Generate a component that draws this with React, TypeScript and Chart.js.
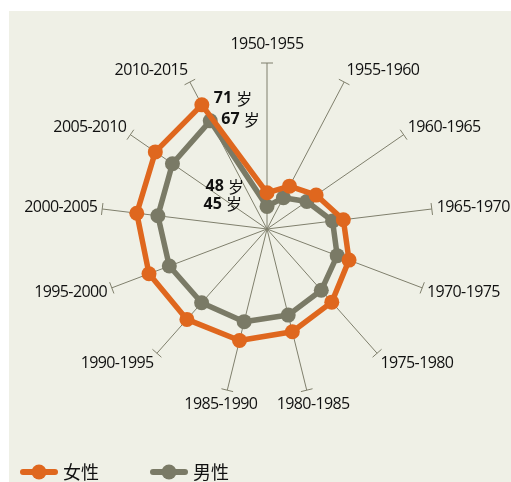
import React, { useEffect, useRef } from 'react';
import { Chart, registerables } from 'chart.js';

Chart.register(...registerables);

const categories = [
  '1950-1955', '1955-1960', '1960-1965', '1965-1970', '1970-1975', '1975-1980', '1980-1985',
  '1985-1990', '1990-1995', '1995-2000', '2000-2005', '2005-2010', '2010-2015',
];
const femaleValues = [48, 50.7, 53.2, 57.0, 59.4, 61.6, 63.4, 65.4, 66.7, 67.9, 69.0, 70.0, 71];
const maleValues = [45, 47.8, 50.7, 54.6, 56.6, 58.1, 59.6, 61.1, 61.8, 63.1, 64.3, 65.4, 67];
const seriesNames = ['女性', '男性'];
const unit = '岁';
const scaleMin = 40;
const scaleMax = 76.7;

const ORANGE = '#df671e';
const GRAY = '#7a7a66';
const BG = '#eff0e6';
const AXIS = '#7f7f6c';
const TEXT = '#111111';
const LATIN = '"Open Sans", "Noto Sans", sans-serif';
const CJK = '"Noto Sans CJK SC", sans-serif';

const decorPlugin = {
  id: 'decor',
  beforeDatasetsDraw(chart: any) {
    const ctx = chart.ctx;
    const scale = chart.scales.r;
    const R = scale.drawingArea;
    const labels = chart.data.labels as string[];
    ctx.save();
    // T caps at the end of each axis line
    ctx.strokeStyle = AXIS;
    ctx.lineWidth = 1;
    labels.forEach((_, i) => {
      const a = scale.getIndexAngle(i);
      const p = scale.getPointPosition(i, R);
      const px = Math.cos(a), py = Math.sin(a);
      ctx.beginPath();
      ctx.moveTo(p.x - px * 6, p.y - py * 6);
      ctx.lineTo(p.x + px * 6, p.y + py * 6);
      ctx.stroke();
    });
    // category labels
    ctx.font = `16px ${LATIN}`;
    (ctx as any).letterSpacing = '-0.6px';
    ctx.fillStyle = TEXT;
    ctx.textBaseline = 'middle';
    const h = 16;
    labels.forEach((label, i) => {
      const a = scale.getIndexAngle(i);
      const p = scale.getPointPosition(i, R + 5);
      const s = Math.sin(a), c = Math.cos(a);
      const w = ctx.measureText(label).width;
      let x = p.x;
      if (Math.abs(s) < 0.3) {
        ctx.textAlign = 'center';
        x = p.x + s * w * 0.3;
      } else if (s > 0) {
        ctx.textAlign = 'left';
      } else {
        ctx.textAlign = 'right';
      }
      const y = p.y - (c * h) / 2 - (c > 0.9 ? 6 : 0) + (c < -0.9 ? 2 : 0);
      ctx.fillText(label, x, y);
    });
    (ctx as any).letterSpacing = '0px';
    ctx.restore();
  },
  afterDatasetsDraw(chart: any) {
    const ctx = chart.ctx;
    ctx.save();
    const offsets = [
      { first: [-23, -6], last: [12, -6] },
      { first: [-25, -2], last: [11, -1] },
    ];
    chart.data.datasets.forEach((ds: any, di: number) => {
      const meta = chart.getDatasetMeta(di);
      const pts = meta.data;
      const n = pts.length;
      const drawLabel = (value: number, x: number, y: number, align: 'left' | 'right') => {
        const num = String(Math.round(value));
        ctx.textBaseline = 'middle';
        ctx.font = `bold 16px ${LATIN}`;
        const wNum = ctx.measureText(num + ' ').width;
        ctx.font = `16px ${CJK}`;
        const wUnit = ctx.measureText(unit).width;
        const x0 = align === 'left' ? x : x - wNum - wUnit;
        ctx.fillStyle = TEXT;
        ctx.textAlign = 'left';
        ctx.font = `bold 16px ${LATIN}`;
        ctx.fillText(num, x0, y);
        ctx.font = `16px ${CJK}`;
        ctx.fillText(unit, x0 + wNum, y);
      };
      const o = offsets[di];
      drawLabel(ds.data[0], pts[0].x + o.first[0], pts[0].y + o.first[1], 'right');
      drawLabel(ds.data[n - 1], pts[n - 1].x + o.last[0], pts[n - 1].y + o.last[1], 'left');
    });
    ctx.restore();
  },
  afterDraw(chart: any) {
    const ctx = chart.ctx;
    ctx.save();
    const y = 461;
    const items = [
      { x: 11 },
      { x: 141 },
    ];
    chart.data.datasets.forEach((ds: any, i: number) => {
      const it = items[i];
      ctx.strokeStyle = ds.borderColor;
      ctx.lineWidth = 6;
      ctx.lineCap = 'round';
      ctx.beginPath();
      ctx.moveTo(it.x + 3, y);
      ctx.lineTo(it.x + 35, y);
      ctx.stroke();
      ctx.fillStyle = ds.borderColor;
      ctx.beginPath();
      ctx.arc(it.x + 19, y, 7.5, 0, Math.PI * 2);
      ctx.fill();
      ctx.fillStyle = TEXT;
      ctx.font = `18px ${CJK}`;
      ctx.textAlign = 'left';
      ctx.textBaseline = 'middle';
      ctx.fillText(ds.label, it.x + 43, y);
    });
    ctx.restore();
  },
};

export default function App() {
  const ref = useRef<HTMLCanvasElement | null>(null);
  useEffect(() => {
    if (!ref.current) return;
    const chart = new Chart(ref.current, {
      type: 'radar',
      data: {
        labels: categories,
        datasets: [
          {
            label: seriesNames[0],
            data: femaleValues,
            borderColor: ORANGE,
            backgroundColor: ORANGE,
            pointBackgroundColor: ORANGE,
            pointBorderWidth: 0,
            pointRadius: 7.5,
            borderWidth: 5.5,
            borderJoinStyle: 'round',
            fill: false,
          },
          {
            label: seriesNames[1],
            data: maleValues,
            borderColor: GRAY,
            backgroundColor: GRAY,
            pointBackgroundColor: GRAY,
            pointBorderWidth: 0,
            pointRadius: 7.5,
            borderWidth: 5.5,
            borderJoinStyle: 'round',
            fill: false,
          },
        ],
      },
      options: {
        responsive: false,
        animation: false,
        devicePixelRatio: 1,
        layout: { padding: { left: 92, right: 78, top: 52, bottom: 87 } },
        plugins: { legend: { display: false }, tooltip: { enabled: false } },
        scales: {
          r: {
            min: scaleMin,
            max: scaleMax,
            grid: { display: false },
            angleLines: { display: true, color: AXIS, lineWidth: 1 },
            ticks: { display: false },
            pointLabels: { display: false },
          },
        },
      } as any,
      plugins: [decorPlugin],
    });
    return () => chart.destroy();
  }, []);
  return (
    <div style={{ position: 'absolute', left: 9, top: 11, width: 502, height: 471, background: BG }}>
      <canvas ref={ref} width={502} height={471} style={{ display: 'block' }} />
    </div>
  );
}
